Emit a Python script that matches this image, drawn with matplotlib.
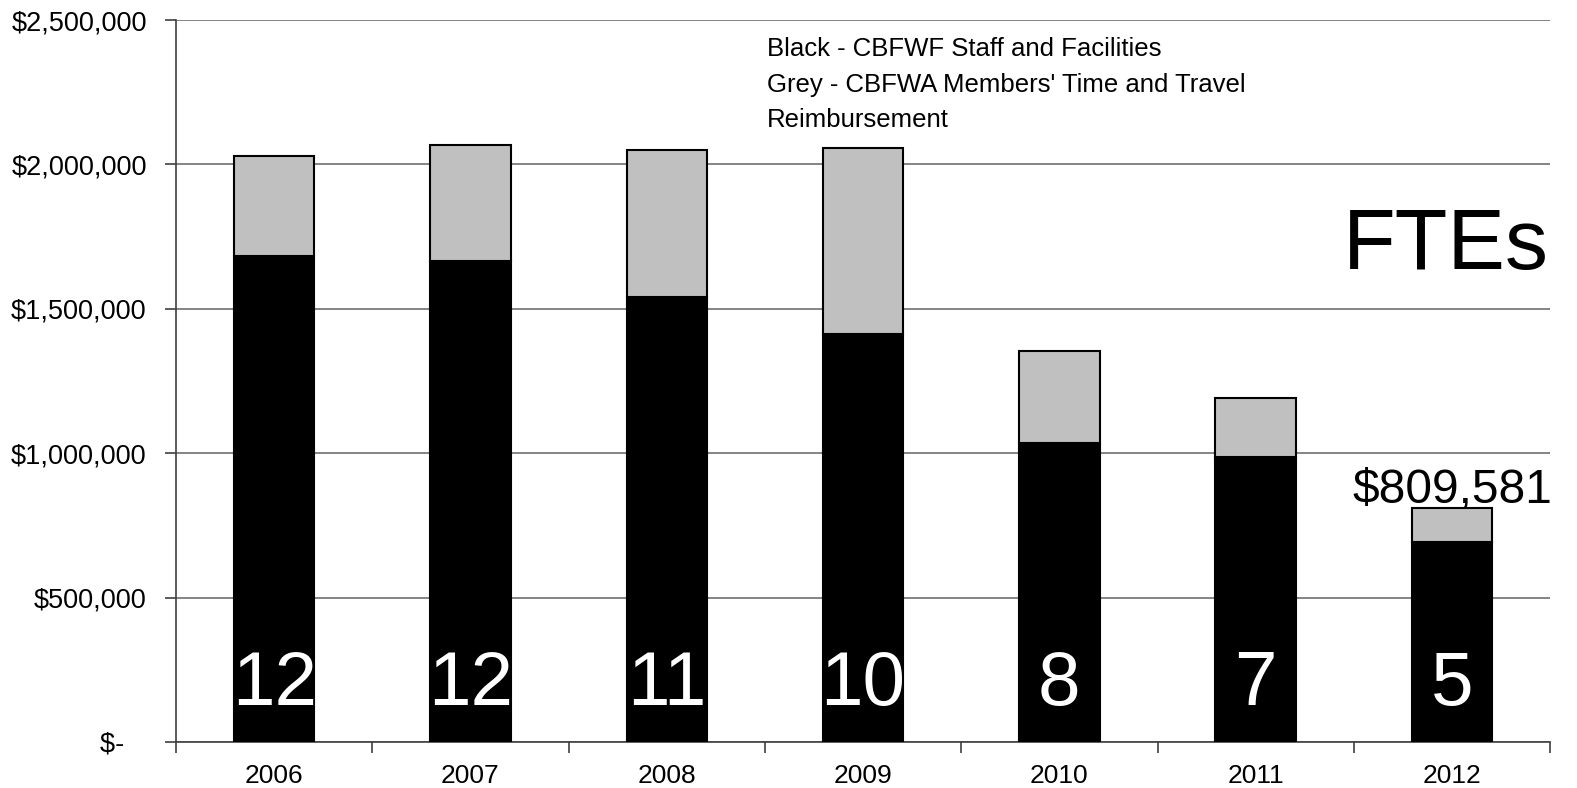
import matplotlib
matplotlib.use("Agg")
import matplotlib.pyplot as plt
from matplotlib.ticker import FuncFormatter, FixedLocator

plt.rcParams['font.family'] = ['Liberation Sans', 'DejaVu Sans']

# data
years = ['2006', '2007', '2008', '2009', '2010', '2011', '2012']
staff = [1683000, 1665000, 1541000, 1413000, 1035000, 987000, 693000]   # black
members = [346000, 402000, 509000, 644000, 319000, 204000, 116581]      # grey
ftes = ['12', '12', '11', '10', '8', '7', '5']
last_total_label = '$809,581'


def money(v, pos):
    if v == 0:
        return '$-   '
    return '${:,.0f}'.format(v)


def draw_chart():
    fig = plt.figure(figsize=(15.77, 7.88), dpi=100)
    ax = fig.add_axes([0.1116, 0.0584, 0.8714, 0.9162])

    x = list(range(len(years)))
    ax.bar(x, staff, width=0.41, color='black', edgecolor='black', linewidth=1.5, zorder=3)
    ax.bar(x, members, width=0.41, bottom=staff, color='#c0c0c0',
           edgecolor='black', linewidth=1.5, zorder=3)

    # FTE counts inside the black bars
    for xi, n in zip(x, ftes):
        ax.text(xi, 195000, n, ha='center', va='center', color='white',
                fontsize=55, zorder=4)

    # total for the last year
    total_last = staff[-1] + members[-1]
    ax.annotate(last_total_label, (x[-1], total_last), xytext=(0, 4),
                textcoords='offset points', ha='center', va='baseline',
                fontsize=34.5)

    ax.text(0.999, 0.685, 'FTEs', transform=ax.transAxes, ha='right',
            va='center', fontsize=62)

    ax.text(0.43, 0.976,
            "Black - CBFWF Staff and Facilities\n"
            "Grey - CBFWA Members' Time and Travel\n"
            "Reimbursement",
            transform=ax.transAxes, ha='left', va='top', fontsize=18.5,
            linespacing=1.6)

    ax.set_xlim(-0.5, len(years) - 0.5)
    ax.set_ylim(0, 2500000)
    ax.set_yticks(range(0, 2500001, 500000))
    ax.yaxis.set_major_formatter(FuncFormatter(money))
    ax.yaxis.grid(True, color='#6f6f6f', linewidth=1.2, zorder=0)
    ax.set_axisbelow(True)

    ax.set_xticks(x)
    ax.set_xticklabels(years)
    ax.xaxis.set_minor_locator(FixedLocator([i - 0.5 for i in range(len(years) + 1)]))
    ax.tick_params(axis='x', which='major', length=0, pad=16, labelsize=19)
    ax.tick_params(axis='x', which='minor', length=8, width=1.2, color='#404040')
    ax.tick_params(axis='y', length=8, width=1.2, color='#404040', pad=13, labelsize=19.5)

    for side in ['top', 'right']:
        ax.spines[side].set_visible(False)
    for side in ['left', 'bottom']:
        ax.spines[side].set_color('#404040')
        ax.spines[side].set_linewidth(1.2)

    fig.savefig('out.png', dpi=100)


if __name__ == "__main__":
    draw_chart()
